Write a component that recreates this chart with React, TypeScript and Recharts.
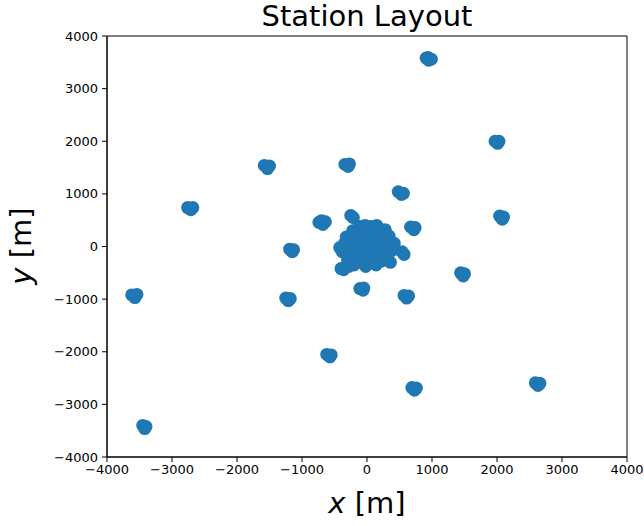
import React from 'react';
import { ScatterChart, Scatter, XAxis, YAxis, ReferenceArea } from 'recharts';

// outer stations (x, y in metres), a few antennas per station
const outerX = [
  910, 950, 990, 940,
  1970, 2010, 2030,
  -1580, -1530, -1500,
  -340, -290, -270,
  480, 530, 560,
  -2760, -2710, -2680,
  -740, -680, -640, -700,
  -250, -210,
  670, 720, 740,
  2040, 2080, 2100,
  -1190, -1150, -1130,
  -3620, -3570, -3540,
  -1250, -1210, -1180,
  -110, -60, -50,
  570, 610, 640,
  1440, 1480, 1500,
  -620, -570, -550,
  690, 730, 760,
  2590, 2630, 2660,
  -3450, -3420, -3400,
  540, 570,
];
const outerY = [
  3580, 3540, 3560, 3590,
  2000, 1960, 2000,
  1540, 1480, 1530,
  1560, 1520, 1570,
  1040, 990, 1010,
  740, 700, 740,
  460, 420, 470, 490,
  590, 550,
  370, 320, 360,
  580, 520, 560,
  -50, -100, -60,
  -920, -970, -910,
  -980, -1030, -990,
  -800, -830, -790,
  -930, -980, -940,
  -500, -560, -520,
  -2050, -2100, -2060,
  -2680, -2730, -2690,
  -2590, -2640, -2600,
  -3400, -3460, -3420,
  -100, -150,
];

// dense core
const coreX = [
  -380, -350, -320, -300, -260, -240, -220, -200, -180, -150,
  -130, -120, -100, -80, -60, -40, -20, 0, 20, 40,
  60, 80, 100, 120, 140, 160, 180, 200, 220, 240,
  260, 280, 300, 320, 340, 360, 380, -420, -280, 0,
  -30, 150, 420, -400, -360,
];
const coreY = [
  -100, 50, 180, -250, -50, 120, 300, -350, -180, 30,
  200, 380, -300, -100, 100, 280, -380, 0, 180, -220,
  380, -80, 90, 300, -350, -180, 20, 220, -280, -60,
  130, 320, -180, 40, 200, -300, -80, -20, -380, -250,
  400, 400, 60, -420, -440,
];

const ticks = [-4000, -3000, -2000, -1000, 0, 1000, 2000, 3000, 4000];

const points = [
  ...outerX.map((x, i) => ({ x, y: outerY[i] })),
  ...coreX.map((x, i) => ({ x, y: coreY[i] })),
];

const fmt = (v: number) => (v < 0 ? '\u2212' + Math.abs(v) : String(v));
const font = 'DejaVu Sans, sans-serif';

const Dot = (p: any) => <circle cx={p.cx} cy={p.cy} r={6.5} fill="#1f77b4" />;

export default function App() {
  return (
    <div style={{ position: 'absolute', left: 0, top: 0, width: 644, height: 526, background: '#fff', fontFamily: font }}>
      <ScatterChart width={644} height={526} margin={{ top: 36, right: 17, bottom: 39, left: 47 }}>
        <XAxis
          type="number"
          dataKey="x"
          domain={[-4000, 4000]}
          ticks={ticks}
          allowDataOverflow
          tickFormatter={fmt}
          height={30}
          tickSize={5}
          tickMargin={3}
          stroke="#000"
          tick={{ fill: '#000', fontSize: 13, fontFamily: font }}
        />
        <YAxis
          type="number"
          dataKey="y"
          domain={[-4000, 4000]}
          ticks={ticks}
          allowDataOverflow
          tickFormatter={fmt}
          width={60}
          tickSize={5}
          tickMargin={4}
          stroke="#000"
          tick={{ fill: '#000', fontSize: 13, fontFamily: font }}
        />
        <ReferenceArea x1={-4000} x2={4000} y1={-4000} y2={4000} fill="none" stroke="#000" strokeWidth={1} />
        <Scatter data={points} shape={Dot} isAnimationActive={false} />
      </ScatterChart>
      <div style={{ position: 'absolute', left: 0, width: 734, top: -1, textAlign: 'center', fontSize: 29, lineHeight: '34px' }}>
        Station Layout
      </div>
      <div style={{ position: 'absolute', left: 0, width: 734, top: 485, textAlign: 'center', fontSize: 29, lineHeight: '36px' }}>
        <i>x</i> [m]
      </div>
      <div
        style={{
          position: 'absolute', left: 21, top: 246, fontSize: 29, lineHeight: '36px', whiteSpace: 'nowrap',
          transform: 'translate(-50%, -50%) rotate(-90deg)',
        }}
      >
        <i>y</i> [m]
      </div>
    </div>
  );
}
